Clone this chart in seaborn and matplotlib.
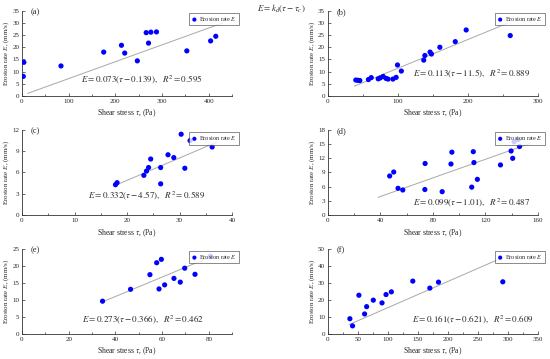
import matplotlib
matplotlib.use("Agg")
import matplotlib.pyplot as plt
from matplotlib.ticker import MultipleLocator
import seaborn as sns

# panel (a)
tau_a = [2.8, 4, 83.5, 175, 213, 220, 247, 266, 271, 276, 288, 353, 404, 415]
E_a = [8.0, 13.8, 12.3, 18.0, 20.8, 17.6, 14.4, 26.0, 21.7, 26.2, 26.3, 18.5, 22.6, 24.5]
fit_x_a = [12, 430]
fit_y_a = [1.0, 30.0]

# panel (b)
tau_b = [40, 42.9, 45.7, 58, 62, 72, 75, 79, 83, 86, 93, 97.6, 99.5, 105,
         137, 138.6, 146, 148, 160, 182, 197.6, 260.5]
E_b = [6.5, 6.4, 6.3, 6.7, 7.5, 7.0, 7.4, 8.0, 7.2, 6.9, 6.9, 7.6, 12.7, 10.2,
       14.7, 16.6, 18.0, 17.2, 20.0, 22.3, 27.1, 24.8]
fit_x_b = [38, 256]
fit_y_b = [4.0, 29.8]

# panel (c)
tau_c = [17.8, 18.1, 23.2, 23.7, 24.1, 24.5, 26.4, 26.4, 27.8, 28.9, 30.3, 31.0, 32.0, 36.2]
E_c = [4.28, 4.56, 5.6, 6.2, 6.7, 7.9, 6.7, 4.4, 8.5, 8.1, 11.4, 6.6, 10.5, 9.6]
fit_x_c = [17.5, 37.0]
fit_y_c = [4.1, 10.26]

# panel (d)
tau_d = [47.1, 50.2, 53.5, 57.1, 74.1, 73.9, 87.1, 93.8, 94.5, 109.6, 110.8,
         111.3, 113.9, 131.5, 139.6, 140.8, 141.9, 144.9, 146]
E_d = [8.26, 9.1, 5.65, 5.3, 10.9, 5.4, 4.94, 10.8, 13.3, 5.9, 13.4,
       11.1, 7.55, 10.6, 13.55, 12.0, 15.5, 15.95, 14.5]
fit_x_d = [38.2, 153.6]
fit_y_d = [3.74, 15.1]

# panel (e)
tau_e = [34.5, 46.5, 54.8, 57.7, 58.7, 59.7, 61.1, 65.1, 67.8, 69.7, 74.1, 80.7]
E_e = [9.6, 13.1, 17.4, 20.9, 13.2, 21.9, 14.4, 16.3, 15.2, 19.3, 17.5, 22.8]
fit_x_e = [34.5, 80.7]
fit_y_e = [9.4, 22.6]

# panel (f)
tau_f = [36.8, 41.2, 51.8, 61.3, 64.7, 75.8, 90.3, 97, 105.9, 141.6, 170, 184.4, 291.5]
E_f = [8.9, 4.7, 22.7, 11.7, 16.0, 19.8, 18.2, 23.1, 24.7, 31.0, 26.9, 30.4, 30.6]
fit_x_f = [35.7, 290.4]
fit_y_f = [5.5, 44.7]

sns.set_style("ticks")
plt.rcParams["font.family"] = ["Liberation Serif", "DejaVu Serif"]
plt.rcParams["mathtext.fontset"] = "stix"
plt.rcParams["xtick.direction"] = "in"
plt.rcParams["ytick.direction"] = "in"


def draw_panel(ax, tau, E, fx, fy, xlim, xmaj, xmin, ylim, ymaj, tag, eq, eqpos):
    sns.lineplot(x=fx, y=fy, color="#a8a8a8", linewidth=0.7, ax=ax, legend=False)
    sns.scatterplot(x=tau, y=E, color="#0000ff", s=14, edgecolor="none",
                    label="Erosion rate $E$", ax=ax, zorder=3)
    ax.set_xlim(*xlim)
    ax.set_ylim(*ylim)
    ax.xaxis.set_major_locator(MultipleLocator(xmaj))
    ax.xaxis.set_minor_locator(MultipleLocator(xmin))
    ax.yaxis.set_major_locator(MultipleLocator(ymaj))
    ax.tick_params(which="major", length=2.5, width=0.5, labelsize=5, pad=2, color="#333333")
    ax.tick_params(which="minor", length=1.5, width=0.5, color="#333333")
    sns.despine(ax=ax)
    for s in ["left", "bottom"]:
        ax.spines[s].set_linewidth(0.6)
        ax.spines[s].set_color("#333333")
    ax.set_xlabel(r"Shear stress $\tau$, (Pa)", fontsize=5.5, labelpad=3)
    ax.set_ylabel(r"Erosion rate $E$, (mm/s)", fontsize=5, labelpad=1)
    ax.text(0.04, 0.98, tag, transform=ax.transAxes, fontsize=6, va="center", ha="left")
    ax.text(eqpos[0], eqpos[1], eq, fontsize=6.5, ha="center", va="center")
    leg = ax.legend(loc="upper right", bbox_to_anchor=(1.05, 1.01), fontsize=4.5,
                    frameon=True, fancybox=False, handletextpad=0.3, borderpad=0.35,
                    handlelength=1.0, markerscale=0.8)
    leg.get_frame().set_edgecolor("#333333")
    leg.get_frame().set_linewidth(0.5)


fig = plt.figure(figsize=(5.5, 3.59), dpi=100)
w, h = 0.382, 0.237
ax_a = fig.add_axes([0.040, 0.733, w, h])
ax_b = fig.add_axes([0.596, 0.733, w, h])
ax_c = fig.add_axes([0.040, 0.401, w, h])
ax_d = fig.add_axes([0.596, 0.401, w, h])
ax_e = fig.add_axes([0.040, 0.070, w, h])
ax_f = fig.add_axes([0.596, 0.070, w, h])

draw_panel(ax_a, tau_a, E_a, fit_x_a, fit_y_a, (0, 450), 100, 50, (0, 35), 5, "(a)",
           r"$E=0.073(\tau-0.139),\ \ R^2=0.595$", (257, 6.7))
draw_panel(ax_b, tau_b, E_b, fit_x_b, fit_y_b, (0, 300), 100, 50, (0, 35), 5, "(b)",
           r"$E=0.113(\tau-11.5),\ \ R^2=0.889$", (205, 9.1))
draw_panel(ax_c, tau_c, E_c, fit_x_c, fit_y_c, (0, 40), 10, 5, (0, 12), 3, "(c)",
           r"$E=0.332(\tau-4.57),\ \ R^2=0.589$", (23.7, 2.7))
draw_panel(ax_d, tau_d, E_d, fit_x_d, fit_y_d, (0, 160), 40, 20, (0, 18), 3, "(d)",
           r"$E=0.099(\tau-1.01),\ \ R^2=0.487$", (109.6, 2.5))
draw_panel(ax_e, tau_e, E_e, fit_x_e, fit_y_e, (0, 90), 20, 10, (0, 25), 5, "(e)",
           r"$E=0.273(\tau-0.366),\ \ R^2=0.462$", (52, 4.05))
draw_panel(ax_f, tau_f, E_f, fit_x_f, fit_y_f, (0, 350), 50, 25, (0, 50), 10, "(f)",
           r"$E=0.161(\tau-0.621),\ \ R^2=0.609$", (241, 8.1))

fig.text(0.511, 0.975, r"$E=k_d(\tau-\tau_c)$", fontsize=6.5, ha="center", va="center")

fig.savefig("out.png", dpi=100)
